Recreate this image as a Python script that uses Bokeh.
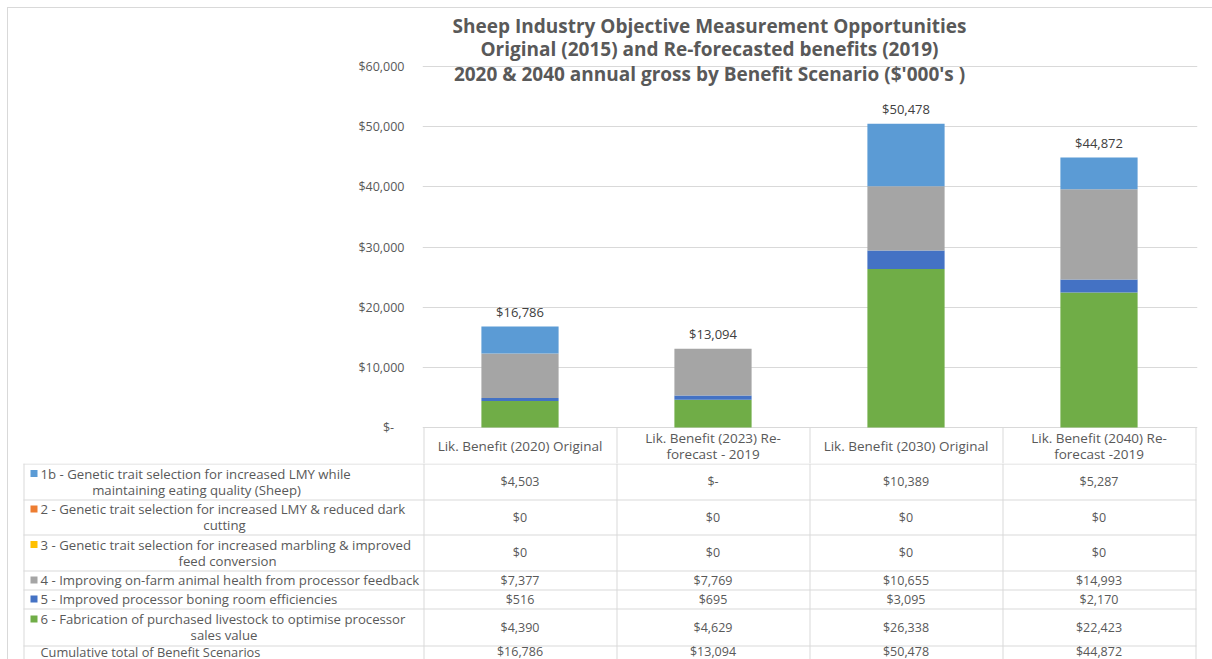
from bokeh.plotting import figure
from bokeh.layouts import column
from bokeh.models import Range1d, FixedTicker, CustomJSTickFormatter, ColumnDataSource
from bokeh.core.properties import value
from bokeh.embed import file_html
from bokeh.resources import INLINE

# ---------------- data ----------------
title_lines = [
    "Sheep Industry Objective Measurement Opportunities",
    "Original (2015) and Re-forecasted benefits (2019)",
    "2020 & 2040 annual gross by Benefit Scenario ($'000's )",
]
categories = [
    "Lik. Benefit (2020) Original",
    "Lik. Benefit (2023) Re-\nforecast - 2019",
    "Lik. Benefit (2030) Original",
    "Lik. Benefit (2040) Re-\nforecast -2019",
]
series_names = [
    "1b - Genetic trait selection for increased LMY while\nmaintaining eating quality (Sheep)",
    "2 - Genetic trait selection for increased LMY & reduced dark\ncutting",
    "3 - Genetic trait selection for increased marbling & improved\nfeed conversion",
    "4 - Improving on-farm animal health from processor feedback",
    "5 - Improved processor boning room efficiencies",
    "6 - Fabrication of purchased livestock to optimise processor\nsales value",
]
series_keys = ["s1b", "s2", "s3", "s4", "s5", "s6"]
series_colors = ["#5B9BD5", "#ED7D31", "#FFC000", "#A5A5A5", "#4472C4", "#70AD47"]
s1b = [4503, 0, 10389, 5287]
s2 = [0, 0, 0, 0]
s3 = [0, 0, 0, 0]
s4 = [7377, 7769, 10655, 14993]
s5 = [516, 695, 3095, 2170]
s6 = [4390, 4629, 26338, 22423]
zero_labels = ["$-", "$0", "$0", "$0", "$0", "$0"]
totals = [16786, 13094, 50478, 44872]
total_row_name = "Cumulative total of Benefit Scenarios"
y_ticks = [0, 10000, 20000, 30000, 40000, 50000, 60000]

series_values = [s1b, s2, s3, s4, s5, s6]

# ---------------- layout (page pixels) ----------------
OX, OY = 8, 8            # where the figures start (after margin + border)
PW, PH = 1212, 659
CL, CR = 423, 1195       # category area (table data columns)
FL, FR = 422, 1197       # frame of the chart
FT, Y0 = 66, 427         # y of top tick and of zero
SPLIT = 463              # chart figure / table figure boundary
FONT = "Open Sans"
TXT = "#595959"
GRID = "#D9D9D9"
NUM_SIZE = "12.5px"
HDR_SIZE = "13.5px"
LBL_SIZE = "13.2px"
NCAT = len(categories)
COLW = (CR - CL) / NCAT


def X(px):
    return (px - CL) / COLW


def Y(py):
    return (Y0 - py) * y_ticks[-1] / (Y0 - FT)


# ================= chart figure =================
p = figure(width=PW - OX, height=SPLIT - OY,
           x_range=Range1d(X(FL), X(FR)), y_range=Range1d(Y(SPLIT), Y(OY)),
           output_backend="svg", toolbar_location=None, x_axis_location=None,
           min_border_left=FL - OX, min_border_right=PW - FR,
           min_border_top=0, min_border_bottom=0)
p.frame_align = False
p.outline_line_color = None
p.background_fill_color = "white"
p.border_fill_color = "white"
p.xgrid.visible = False
p.ygrid.ticker = FixedTicker(ticks=y_ticks)
p.ygrid.grid_line_color = GRID
p.ygrid.grid_line_width = 1

ax = p.yaxis[0]
ax.ticker = FixedTicker(ticks=y_ticks)
ax.formatter = CustomJSTickFormatter(code="""
if (tick == 0) { return "$-\\u2007\\u00a0"; }
return "$" + Math.round(tick).toLocaleString("en-US");
""")
ax.axis_line_color = None
ax.major_tick_line_color = None
ax.minor_tick_line_color = None
ax.major_label_standoff = 12
ax.major_label_text_font = FONT
ax.major_label_text_font_size = NUM_SIZE
ax.major_label_text_color = TXT

# bars
xs = [i + 0.5 for i in range(NCAT)]
src = ColumnDataSource(dict(x=xs, **{k: v for k, v in zip(series_keys, series_values)}))
order = list(range(len(series_keys)))[::-1]  # bottom: 6 ... top: 1b
p.vbar_stack([series_keys[i] for i in order], x="x", width=0.4, source=src,
             fill_color=[series_colors[i] for i in order], line_color=None)

p.text(x=xs, y=totals, text=["${:,}".format(t) for t in totals],
       text_align="center", text_baseline="middle", y_offset=-15,
       text_font=value(FONT), text_font_size="13px", text_color="#404040")

# title
p.text(x=[X(709)] * 3, y=[Y(25), Y(48), Y(73)], text=title_lines,
       text_align="center", text_baseline="middle", text_font=value(FONT),
       text_font_size="19px", text_font_style="bold", text_color=TXT)

# table header row (inside chart frame)
hx, hy, ht = [], [], []
for c, cat in enumerate(categories):
    lines = cat.split("\n")
    ys = [445] if len(lines) == 1 else [437, 453]
    for ln, yy in zip(lines, ys):
        hx.append(c + 0.5)
        hy.append(Y(yy))
        ht.append(ln)
p.text(x=hx, y=hy, text=ht, text_align="center", text_baseline="middle",
       text_font=value(FONT), text_font_size=HDR_SIZE, text_color=TXT)
vx = [X(CL + c * COLW + 0.5) for c in range(NCAT + 1)]
p.segment(x0=vx, x1=vx, y0=[Y(Y0)] * len(vx), y1=[Y(SPLIT)] * len(vx),
          line_color=GRID, line_width=1)

# ================= table figure =================
t = figure(width=PW - OX, height=PH - SPLIT,
           x_range=Range1d(OX, PW), y_range=Range1d(PH, SPLIT),
           output_backend="svg", toolbar_location=None,
           x_axis_location=None, y_axis_location=None,
           min_border_left=0, min_border_right=0, min_border_top=0, min_border_bottom=0)
t.frame_align = False
t.outline_line_color = None
t.grid.visible = False
t.background_fill_color = "white"
t.border_fill_color = "white"

row_lines = [463, 499, 534, 570, 589, 608, 645]
t.segment(x0=[23] * len(row_lines), x1=[CR + 1] * len(row_lines),
          y0=[r + 0.5 for r in row_lines], y1=[r + 0.5 for r in row_lines],
          line_color=GRID, line_width=1)
col_x = [23.5] + [CL + c * COLW + 0.5 for c in range(NCAT + 1)]
t.segment(x0=col_x, x1=col_x, y0=[SPLIT] * len(col_x), y1=[PH] * len(col_x),
          line_color=GRID, line_width=1)

row_centers = [481, 516.5, 552, 579.5, 598.5, 626.5, 651]
wrap_centers = [196, 224, 227, None, None, 223.5]

# values
cx, cy, ct = [], [], []
for r, vals in enumerate(series_values):
    for c, v in enumerate(vals):
        cx.append(CL + (c + 0.5) * COLW)
        cy.append(row_centers[r])
        ct.append(zero_labels[r] if v == 0 else "${:,}".format(v))
t.text(x=cx, y=cy, text=ct, text_align="center", text_baseline="middle",
       text_font=value(FONT), text_font_size=NUM_SIZE, text_color=TXT)
t.text(x=[CL + (c + 0.5) * COLW for c in range(NCAT)], y=[row_centers[-1]] * NCAT,
       text=["${:,}".format(tot) for tot in totals], text_align="center",
       text_baseline="middle", text_font=value(FONT), text_font_size=NUM_SIZE, text_color=TXT)

# row labels with legend keys
lx, ly, lt, la = [], [], [], []
kx, ky, kc = [], [], []
for r, name in enumerate(series_names):
    lines = name.split("\n")
    yc = row_centers[r]
    ys = [yc] if len(lines) == 1 else [yc - 8, yc + 8]
    kx.append(33.5)
    ky.append(ys[0])
    kc.append(series_colors[r])
    lx.append(40); ly.append(ys[0]); lt.append(lines[0]); la.append("left")
    if len(lines) > 1:
        lx.append(wrap_centers[r]); ly.append(ys[1]); lt.append(lines[1]); la.append("center")
t.text(x=lx, y=ly, text=lt, text_align=la, text_baseline="middle",
       text_font=value(FONT), text_font_size=LBL_SIZE, text_color=TXT)
t.text(x=[40], y=[row_centers[-1]], text=[total_row_name], text_align="left",
       text_baseline="middle", text_font=value(FONT), text_font_size="12.8px", text_color=TXT)
t.scatter(x=kx, y=ky, marker="square", size=7, fill_color=kc, line_color=None)

layout = column(p, t, spacing=0,
                styles={"margin-left": "7px", "margin-top": "7px",
                        "border-left": "1px solid #D9D9D9", "border-top": "1px solid #D9D9D9"})

open("out.html", "w").write(file_html(layout, INLINE))
